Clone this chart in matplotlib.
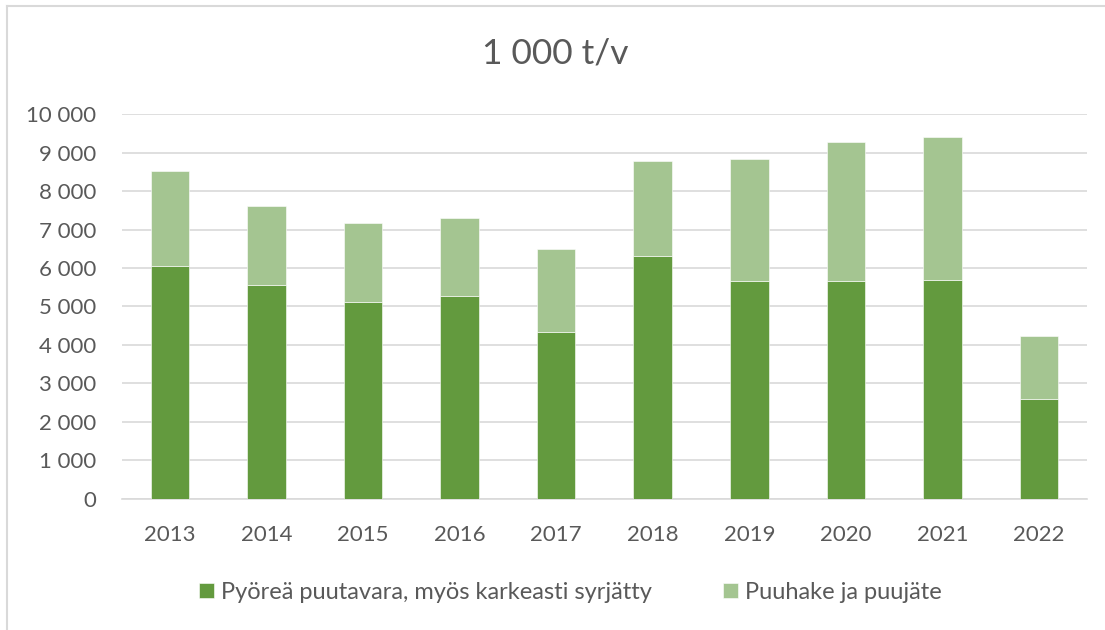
import matplotlib.pyplot as plt
import matplotlib.ticker as ticker
from matplotlib.lines import Line2D
import numpy as np

# data
years = ['2013', '2014', '2015', '2016', '2017', '2018', '2019', '2020', '2021', '2022']
pyorea = [6040, 5570, 5110, 5280, 4350, 6320, 5660, 5650, 5700, 2600]
totals = [8530, 7620, 7180, 7310, 6500, 8790, 8840, 9280, 9410, 4230]
puuhake = [t - p for t, p in zip(totals, pyorea)]

labels = ['Pyöreä puutavara, myös karkeasti syrjätty', 'Puuhake ja puujäte']
colors = ['#639a3e', '#a4c591']
text_col = '#595959'
grid_col = '#d9d9d9'

plt.rcParams['font.family'] = ['Lato', 'DejaVu Sans']

fig = plt.figure(figsize=(11.05, 6.30), dpi=100)
ax = fig.add_axes([0.110, 0.208, 0.874, 0.611])

x = np.arange(len(years))
width = 0.4
ax.bar(x, pyorea, width, color=colors[0], label=labels[0], zorder=3,
       edgecolor='white', linewidth=0.4)
ax.bar(x, puuhake, width, bottom=pyorea, color=colors[1], label=labels[1], zorder=3,
       edgecolor='white', linewidth=0.4)

ax.set_xlim(-0.5, len(years) - 0.5)
ax.set_ylim(0, 10000)
ax.yaxis.set_major_locator(ticker.MultipleLocator(1000))
ax.yaxis.set_major_formatter(ticker.FuncFormatter(lambda v, p: '{:,}'.format(int(v)).replace(',', ' ')))
ax.set_xticks(x)
ax.set_xticklabels(years)

ax.grid(axis='y', color=grid_col, linewidth=1.2, zorder=0)
for side in ['top', 'right', 'left']:
    ax.spines[side].set_visible(False)
ax.spines['bottom'].set_color(grid_col)
ax.spines['bottom'].set_linewidth(1.2)
ax.tick_params(axis='both', length=0, labelsize=16, colors=text_col)
ax.tick_params(axis='x', pad=19)
ax.tick_params(axis='y', pad=18)

fig.text(0.5025, 0.915, '1 000 t/v', ha='center', va='center', fontsize=25.5, color=text_col)

leg = fig.legend(loc='center', bbox_to_anchor=(0.516, 0.06), ncol=2, frameon=False,
                 fontsize=17, handlelength=0.65, handleheight=0.65, handletextpad=0.3,
                 columnspacing=3.0)
for t in leg.get_texts():
    t.set_color(text_col)

# outer chart border (top and left only visible)
fig.add_artist(Line2D([7 / 1105, 1], [1 - 6 / 630, 1 - 6 / 630], color=grid_col, linewidth=1.5))
fig.add_artist(Line2D([7 / 1105, 7 / 1105], [0, 1 - 6 / 630], color=grid_col, linewidth=1.5))

plt.savefig('out.png', dpi=100)
